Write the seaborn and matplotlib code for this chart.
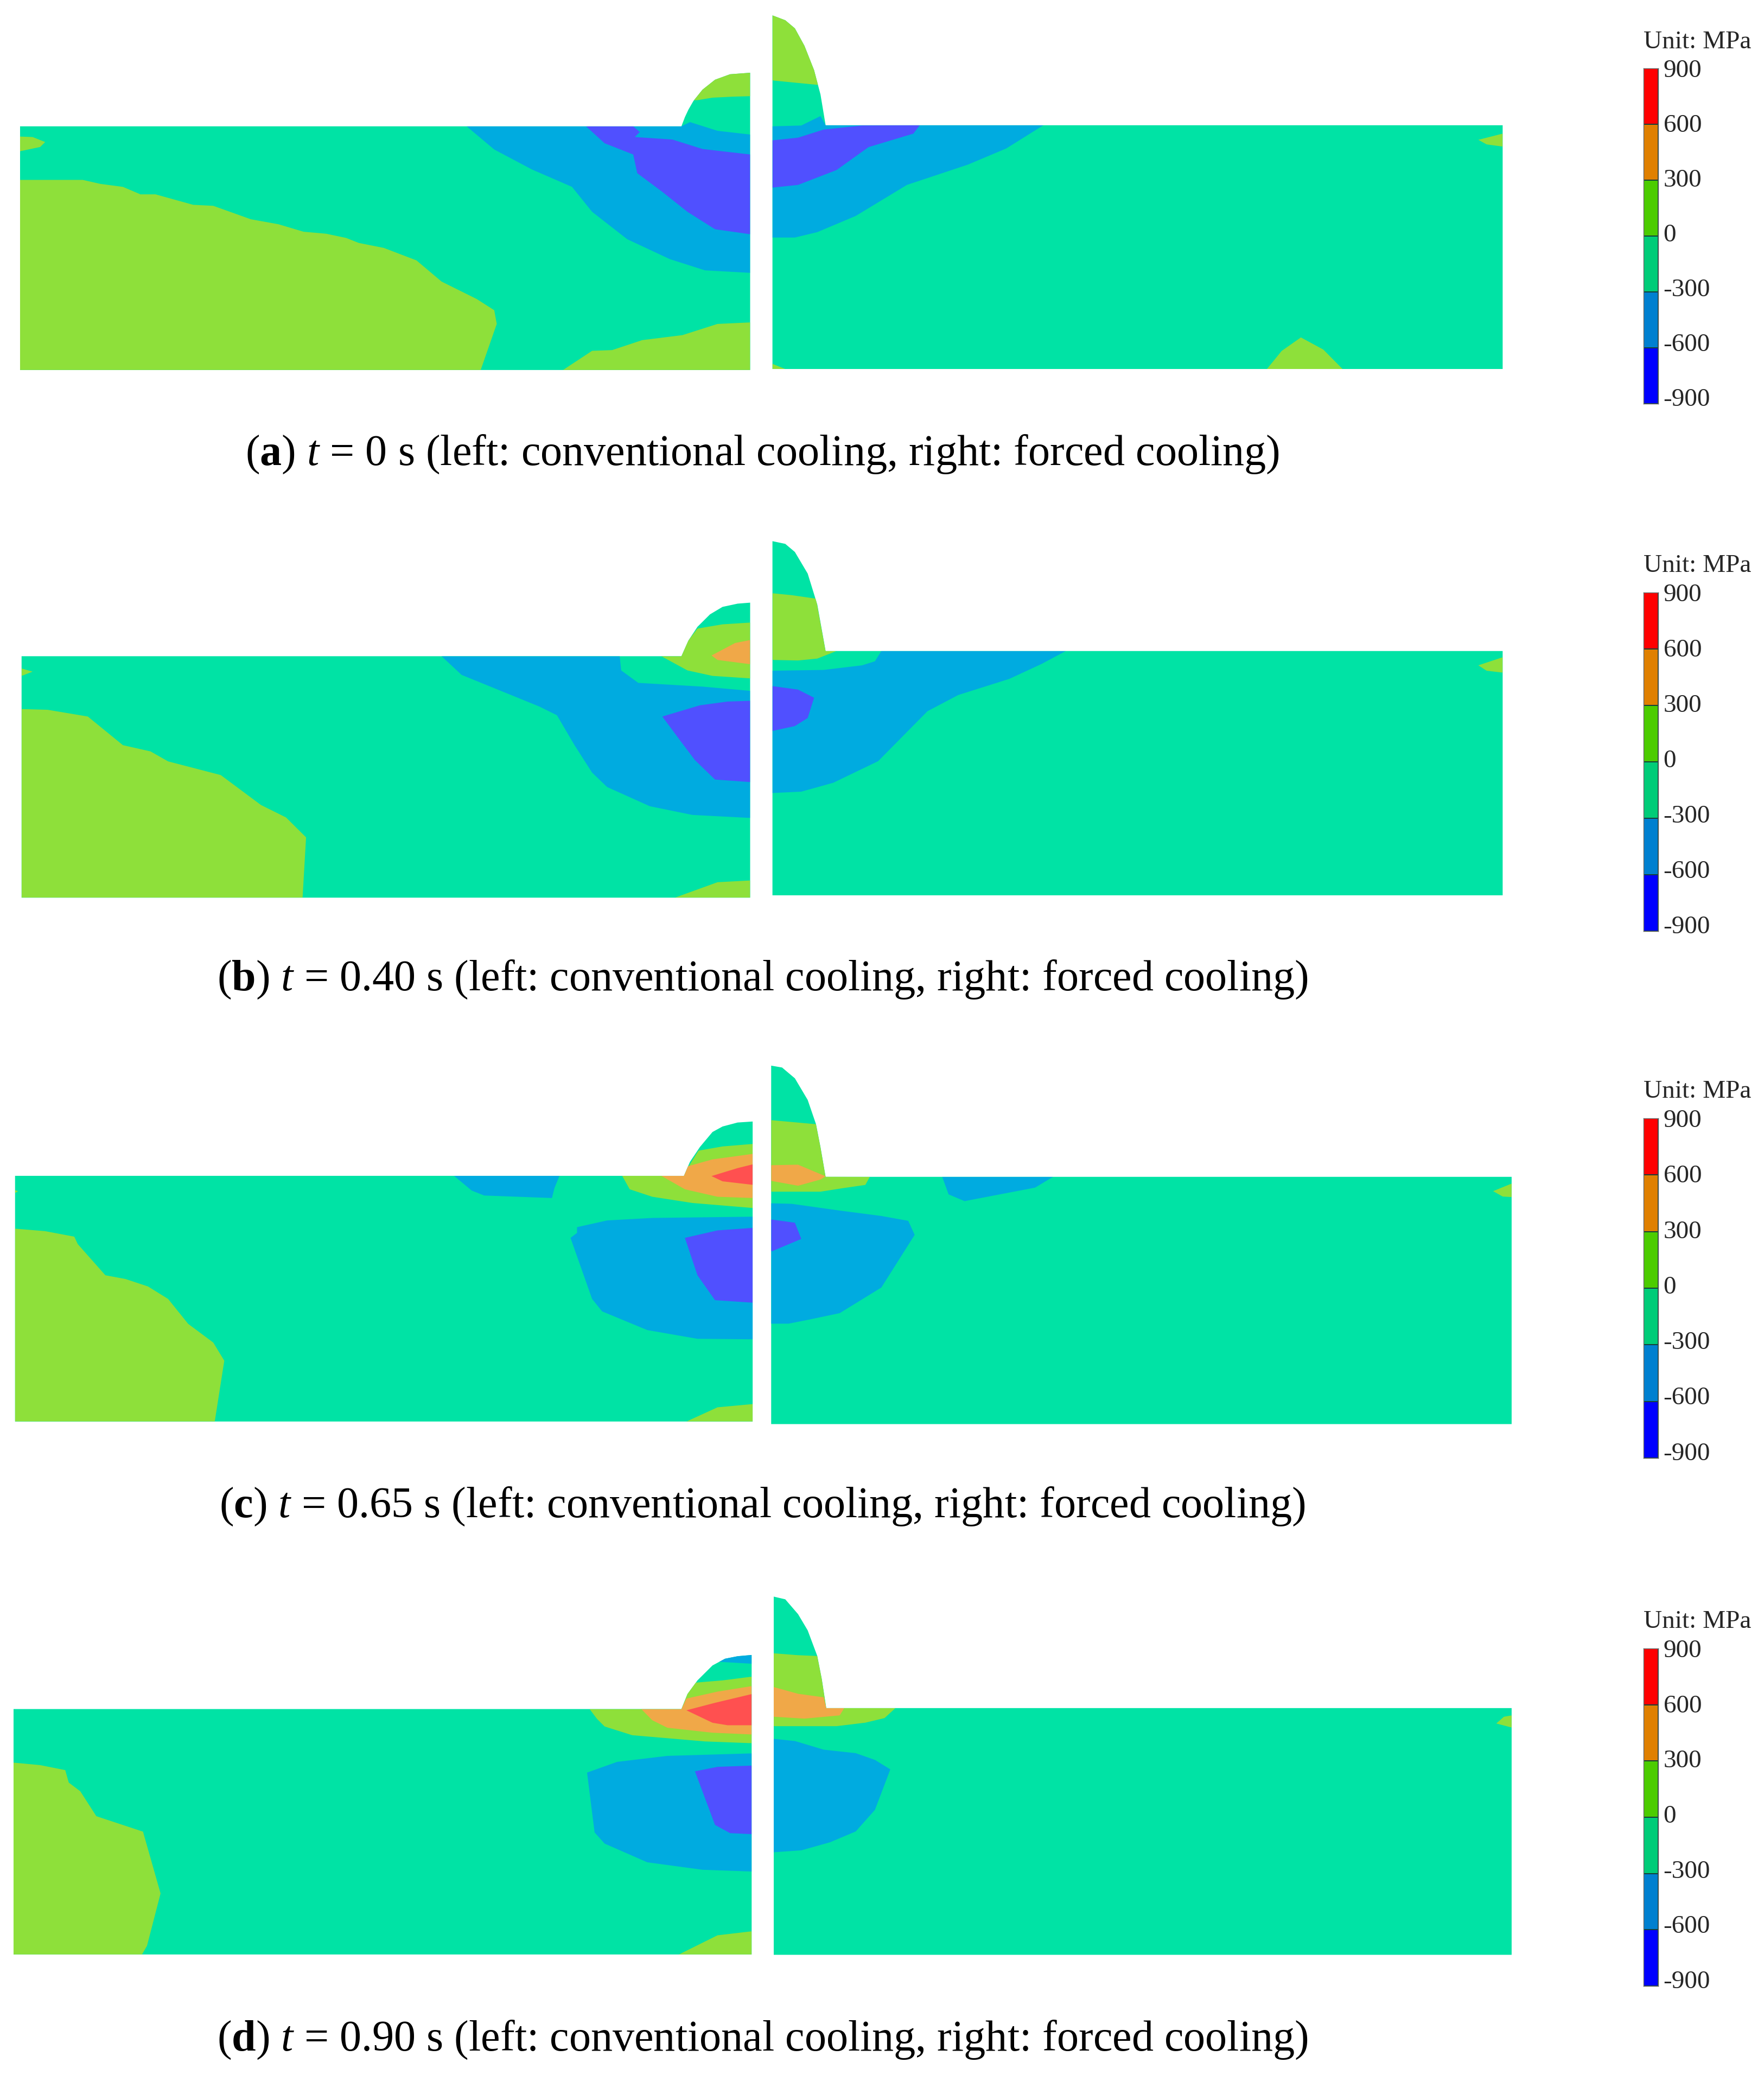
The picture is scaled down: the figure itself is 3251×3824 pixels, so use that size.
import numpy as np
import seaborn as sns
import matplotlib.pyplot as plt
from matplotlib.colors import ListedColormap

W, H = 3251, 3824

# contour fill colours
TEAL = '#00E3A5'
LIME = '#8EE03A'
BLUE = '#00ABE0'
VIOLET = '#5050FF'
ORANGE = '#F0A848'
RED = '#FF5050'

# colour bar
cb_mids = [750, 450, 150, -150, -450, -750]
cb_colors = ['#FF0000', '#E08000', '#4CCC00', '#00CC78', '#0080D0', '#0000FF']
cb_ticks = ['900', '600', '300', '0', '-300', '-600', '-900']

captions = [
    r'($\mathbf{a}$) $\mathit{t}$ = 0 s (left: conventional cooling, right: forced cooling)',
    r'($\mathbf{b}$) $\mathit{t}$ = 0.40 s (left: conventional cooling, right: forced cooling)',
    r'($\mathbf{c}$) $\mathit{t}$ = 0.65 s (left: conventional cooling, right: forced cooling)',
    r'($\mathbf{d}$) $\mathit{t}$ = 0.90 s (left: conventional cooling, right: forced cooling)',
]

# --- t = 0, conventional cooling
a_left_outline = [(40, 507), (1358, 507), (1365, 470), (1372, 440), (1382, 405), (1400, 360), (1425, 320),
                  (1455, 298), (1495, 292), (1495, 1485), (40, 1485)]
a_left_cap = [(1370, 403), (1390, 402), (1420, 392), (1460, 388), (1495, 386), (1495, 280), (1420, 280)]
a_left_edge = [(40, 548), (65, 550), (90, 570), (80, 590), (40, 607)]
a_left_big = [(40, 722), (165, 722), (200, 738), (245, 750), (280, 780), (310, 780), (385, 822), (425, 826),
              (500, 880), (555, 900), (605, 930), (650, 938), (690, 955), (715, 975), (765, 995), (830, 1045),
              (880, 1130), (950, 1200), (985, 1245), (990, 1300), (958, 1485), (40, 1485)]
a_left_root = [(1122, 1485), (1180, 1408), (1220, 1405), (1280, 1365), (1360, 1345), (1430, 1300), (1495, 1294),
               (1495, 1485)]
a_left_blue = [(930, 507), (1358, 507), (1375, 490), (1430, 525), (1495, 540), (1495, 1095), (1405, 1085),
               (1335, 1040), (1250, 960), (1180, 850), (1140, 750), (1060, 680), (985, 600)]
a_left_violet = [(1168, 507), (1262, 507), (1275, 530), (1265, 550), (1340, 560), (1400, 598), (1495, 620),
                 (1495, 940), (1425, 920), (1370, 850), (1320, 770), (1270, 695), (1262, 620), (1205, 575)]

# --- t = 0, forced cooling
a_right_outline = [(20, 57), (40, 75), (55, 105), (70, 170), (85, 260), (95, 350), (103, 464), (1160, 464),
                   (1160, 1367), (20, 1367)]
a_right_cap = [(20, 40), (120, 40), (120, 315), (93, 315), (50, 305), (20, 298)]
a_right_blue = [(443, 464), (385, 550), (325, 610), (230, 685), (150, 800), (90, 860), (55, 880), (20, 880),
                (20, 468), (65, 465), (95, 430), (103, 464)]
a_right_violet = [(20, 520), (60, 510), (100, 480), (160, 465), (250, 464), (240, 495), (170, 545), (120, 630),
                  (60, 685), (20, 695)]
a_right_edge = [(1160, 495), (1122, 518), (1135, 535), (1160, 543)]
a_right_bump = [(792, 1367), (815, 1300), (845, 1250), (880, 1295), (910, 1367)]
a_right_corner = [(20, 1348), (40, 1367), (20, 1367)]

# --- t = 0.40, conventional cooling
b_left_outline = [(43, 543), (1358, 543), (1372, 480), (1390, 425), (1415, 375), (1440, 345), (1470, 332),
                  (1495, 328), (1495, 1512), (43, 1512)]
b_left_lime = [(1318, 543), (1358, 543), (1370, 485), (1390, 432), (1440, 415), (1495, 408), (1495, 632),
               (1420, 622), (1370, 600)]
b_left_orange = [(1418, 540), (1465, 490), (1495, 478), (1495, 575), (1430, 558)]
b_left_blue = [(880, 543), (1235, 543), (1238, 600), (1272, 650), (1400, 665), (1495, 682), (1495, 1192),
               (1380, 1180), (1295, 1145), (1210, 1068), (1180, 1010), (1145, 900), (1110, 780), (1075, 745),
               (920, 618)]
b_left_violet = [(1320, 785), (1395, 740), (1450, 725), (1495, 722), (1495, 1048), (1425, 1038), (1385, 960),
                 (1355, 880)]
b_left_edge = [(43, 592), (65, 605), (43, 622)]
b_left_big = [(43, 755), (95, 758), (175, 785), (245, 900), (300, 925), (335, 965), (440, 1020), (520, 1140),
              (570, 1190), (610, 1270), (603, 1512), (43, 1512)]
b_left_root = [(1345, 1512), (1430, 1450), (1495, 1443), (1495, 1512)]

# --- t = 0.40, forced cooling
b_right_outline = [(20, 75), (40, 85), (55, 115), (75, 195), (90, 310), (103, 482), (1160, 482), (1160, 1387),
                   (20, 1387)]
b_right_lime = [(20, 268), (50, 275), (88, 288), (95, 380), (103, 482), (120, 482), (90, 510), (60, 517),
                (20, 515)]
b_right_blue = [(190, 482), (478, 482), (440, 530), (390, 585), (310, 645), (262, 705), (185, 890), (115, 970),
                (65, 1003), (20, 1008), (20, 555), (100, 552), (160, 535), (180, 520)]
b_right_violet = [(20, 612), (60, 625), (85, 655), (75, 730), (55, 760), (20, 778)]
b_right_edge = [(1160, 505), (1122, 535), (1135, 555), (1160, 562)]

# --- t = 0.65, conventional cooling
c_left_outline = [(30, 516), (1363, 516), (1375, 460), (1395, 400), (1420, 340), (1440, 318), (1470, 302),
                  (1500, 298), (1500, 1502), (30, 1502)]
c_left_lime = [(1240, 516), (1363, 516), (1375, 470), (1392, 415), (1440, 398), (1500, 388), (1500, 645),
               (1380, 625), (1300, 600), (1255, 570)]
c_left_orange = [(1318, 516), (1363, 516), (1370, 478), (1420, 450), (1500, 428), (1500, 605), (1430, 600),
                 (1365, 570)]
c_left_red = [(1418, 517), (1470, 485), (1500, 470), (1500, 552), (1440, 538)]
c_left_blue_top = [(905, 516), (1115, 516), (1105, 565), (1100, 605), (965, 595), (940, 575)]
c_left_blue = [(1150, 722), (1210, 695), (1300, 685), (1500, 680), (1500, 1172), (1390, 1170), (1290, 1135),
               (1200, 1060), (1180, 1010), (1137, 765), (1150, 745)]
c_left_violet = [(1365, 765), (1430, 735), (1500, 725), (1500, 1025), (1425, 1015), (1390, 915)]
c_left_big = [(30, 728), (90, 738), (148, 760), (155, 790), (210, 915), (250, 930), (295, 960), (335, 1010),
              (375, 1110), (425, 1185), (447, 1258), (428, 1502), (30, 1502)]
c_left_root = [(1368, 1502), (1430, 1445), (1500, 1432), (1500, 1502)]
c_left_edge = [(30, 573), (36, 578), (30, 585)]

# --- t = 0.65, forced cooling
c_right_outline = [(18, 68), (35, 75), (55, 115), (75, 195), (88, 285), (95, 370), (103, 480), (1174, 480),
                   (1174, 1396), (18, 1396)]
c_right_lime = [(18, 270), (88, 285), (95, 370), (103, 478), (172, 480), (165, 510), (130, 522), (95, 535),
                (18, 535)]
c_right_orange = [(18, 437), (60, 435), (103, 478), (95, 490), (60, 513), (18, 495)]
c_right_blue_top = [(285, 480), (458, 480), (430, 520), (320, 570), (295, 545)]
c_right_blue = [(18, 578), (50, 580), (125, 605), (190, 625), (232, 643), (242, 695), (190, 890), (125, 985),
                (75, 1010), (45, 1024), (18, 1024)]
c_right_violet = [(18, 638), (55, 650), (65, 710), (20, 755), (18, 755)]
c_right_edge = [(1174, 505), (1145, 533), (1160, 553), (1174, 555)]

# --- t = 0.90, conventional cooling
d_left_outline = [(27, 500), (1358, 500), (1370, 440), (1390, 385), (1420, 325), (1445, 298), (1470, 288),
                  (1498, 283), (1498, 1485), (27, 1485)]
d_left_blue_cap = [(1430, 310), (1498, 318), (1498, 270), (1430, 270)]
d_left_lime = [(1175, 500), (1358, 500), (1370, 440), (1380, 395), (1440, 385), (1498, 370), (1498, 637),
               (1405, 630), (1260, 605), (1205, 570), (1190, 540)]
d_left_orange = [(1278, 500), (1358, 500), (1368, 458), (1430, 430), (1498, 408), (1498, 602), (1420, 595),
                 (1330, 575), (1300, 545)]
d_left_red = [(1368, 505), (1425, 475), (1498, 440), (1498, 565), (1450, 565), (1420, 555)]
d_left_blue = [(1170, 755), (1230, 712), (1330, 688), (1498, 678), (1498, 1152), (1400, 1145), (1290, 1115),
               (1205, 1040), (1185, 995)]
d_left_violet = [(1385, 750), (1430, 732), (1498, 727), (1498, 1002), (1455, 998), (1425, 965)]
d_left_big = [(27, 715), (80, 725), (130, 745), (137, 795), (160, 830), (192, 930), (285, 992), (320, 1240),
              (293, 1450), (283, 1485), (27, 1485)]
d_left_root = [(1353, 1485), (1430, 1408), (1498, 1392), (1498, 1485)]

# --- t = 0.90, forced cooling
d_right_outline = [(22, 45), (40, 55), (60, 110), (75, 170), (90, 265), (97, 350), (104, 458), (1174, 458),
                   (1174, 1372), (22, 1372)]
d_right_lime = [(22, 255), (60, 262), (90, 265), (97, 350), (104, 458), (212, 458), (195, 495), (165, 512),
                (120, 525), (22, 525)]
d_right_orange = [(22, 380), (60, 405), (100, 418), (104, 458), (132, 458), (125, 485), (70, 497), (22, 490)]
d_right_blue = [(22, 572), (55, 580), (100, 612), (150, 625), (180, 650), (204, 685), (180, 835), (150, 915),
                (110, 955), (65, 985), (22, 992)]
d_right_edge = [(1174, 485), (1162, 490), (1150, 515), (1174, 530)]


def add_px_axes(fig, x, y, w, h):
    return fig.add_axes([x / W, 1 - (y + h) / H, w / W, h / H])


def draw_half(ax, outline, bands):
    # bands go in painter's order, each one clipped to the section outline
    base, = ax.fill(*zip(*outline), color=TEAL, lw=0)
    for color, poly in bands:
        p, = ax.fill(*zip(*poly), color=color, lw=0)
        p.set_clip_path(base)
    ax.set_xlim(0, 1568)
    ax.set_ylim(1568, 0)
    ax.axis('off')


def draw_colorbar(fig, top, bottom):
    ax = add_px_axes(fig, 3029, top, 27, bottom - top)
    sns.heatmap(np.array(cb_mids).reshape(-1, 1), ax=ax, cmap=ListedColormap(cb_colors[::-1]),
                vmin=-900, vmax=900, cbar=False, xticklabels=False, yticklabels=False,
                linewidths=1.2, linecolor='#15403a')
    ax.yaxis.tick_right()
    # the labels in the original sit a bit tighter than the bands
    ax.set_yticks(np.arange(7) * 0.98)
    ax.set_yticklabels(cb_ticks, fontsize=34, rotation=0)
    ax.tick_params(axis='y', length=0, pad=7)
    for s in ax.spines.values():
        s.set_visible(True)
        s.set_color('#666666')
        s.set_linewidth(1)
    ax.set_title('Unit: MPa', loc='left', fontsize=34, pad=27)


sns.set_theme(style='white')
plt.rcParams['font.family'] = ['Liberation Serif', 'DejaVu Sans']
plt.rcParams['mathtext.fontset'] = 'custom'
plt.rcParams['mathtext.rm'] = 'Liberation Serif'
plt.rcParams['mathtext.it'] = 'Liberation Serif:italic'
plt.rcParams['mathtext.bf'] = 'Liberation Serif:bold'

fig = plt.figure(figsize=(W / 100, H / 100), facecolor='white')

rows = [
    (0, 837, 126, 744,
     a_left_outline, [(LIME, a_left_cap), (LIME, a_left_edge), (LIME, a_left_big), (LIME, a_left_root),
                      (BLUE, a_left_blue), (VIOLET, a_left_violet)],
     a_right_outline, [(LIME, a_right_cap), (BLUE, a_right_blue), (VIOLET, a_right_violet), (LIME, a_right_edge),
                       (LIME, a_right_bump), (LIME, a_right_corner)]),
    (960, 1805, 1092, 1716,
     b_left_outline, [(LIME, b_left_lime), (ORANGE, b_left_orange), (BLUE, b_left_blue), (VIOLET, b_left_violet),
                      (LIME, b_left_edge), (LIME, b_left_big), (LIME, b_left_root)],
     b_right_outline, [(LIME, b_right_lime), (BLUE, b_right_blue), (VIOLET, b_right_violet), (LIME, b_right_edge)]),
    (1930, 2776, 2061, 2687,
     c_left_outline, [(LIME, c_left_lime), (ORANGE, c_left_orange), (RED, c_left_red), (BLUE, c_left_blue_top),
                      (BLUE, c_left_blue), (VIOLET, c_left_violet), (LIME, c_left_big), (LIME, c_left_root),
                      (LIME, c_left_edge)],
     c_right_outline, [(LIME, c_right_lime), (ORANGE, c_right_orange), (BLUE, c_right_blue_top), (BLUE, c_right_blue),
                       (VIOLET, c_right_violet), (LIME, c_right_edge)]),
    (2920, 3759, 3038, 3660,
     d_left_outline, [(BLUE, d_left_blue_cap), (LIME, d_left_lime), (ORANGE, d_left_orange), (RED, d_left_red),
                      (BLUE, d_left_blue), (VIOLET, d_left_violet), (LIME, d_left_big), (LIME, d_left_root)],
     d_right_outline, [(LIME, d_right_lime), (ORANGE, d_right_orange), (BLUE, d_right_blue), (LIME, d_right_edge)]),
]

for i, (y0, cap_y, cb_top, cb_bot, l_out, l_bands, r_out, r_bands) in enumerate(rows):
    draw_half(add_px_axes(fig, 0, y0, 1450, 720), l_out, l_bands)
    draw_half(add_px_axes(fig, 1400, y0, 1851, 780), r_out, r_bands)
    draw_colorbar(fig, cb_top, cb_bot)
    fig.text(1405 / W, 1 - cap_y / H, captions[i], ha='center', va='center', fontsize=57.7, color='black')

fig.savefig('out.png', dpi=100, facecolor='white')
